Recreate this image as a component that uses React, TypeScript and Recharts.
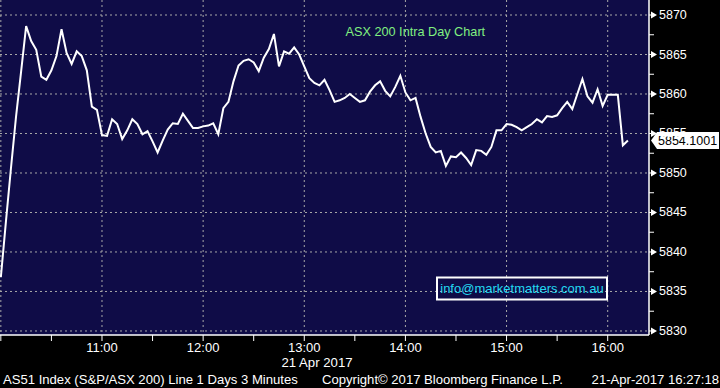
import React from "react";
import {
  LineChart,
  Line,
  XAxis,
  YAxis,
  CartesianGrid,
  ReferenceDot,
} from "recharts";

// ASX 200, 3-minute closes from 10:00
const prices = [
  5836.8, 5843.8, 5850.6, 5857.1, 5862.8, 5868.6, 5866.7, 5865.6, 5862.2, 5861.8,
  5863.0, 5864.8, 5868.2, 5865.2, 5863.8, 5865.4, 5864.8, 5863.0, 5858.4, 5858.0,
  5854.8, 5854.7, 5856.8, 5856.2, 5854.3, 5855.4, 5856.8, 5856.2, 5854.9, 5855.3,
  5854.0, 5852.6, 5854.1, 5855.5, 5856.3, 5856.2, 5857.5, 5856.6, 5855.7, 5855.7,
  5855.9, 5856.0, 5856.3, 5854.9, 5858.2, 5859.0, 5861.6, 5863.6, 5864.2, 5864.4,
  5864.0, 5862.9, 5864.6, 5865.7, 5867.6, 5863.5, 5865.4, 5865.1, 5865.9, 5865.0,
  5863.5, 5862.0, 5861.4, 5861.1, 5861.8, 5860.5, 5859.0, 5859.2, 5859.5, 5860.0,
  5859.5, 5859.0, 5859.2, 5860.3, 5861.1, 5861.6, 5860.4, 5859.7, 5860.9, 5862.3,
  5860.2, 5859.2, 5859.5, 5857.1, 5855.0, 5853.3, 5852.6, 5852.8, 5850.9, 5852.1,
  5852.0, 5852.6, 5851.9, 5851.0, 5852.9, 5852.8, 5852.3, 5853.3, 5855.4, 5855.4,
  5856.2, 5856.1, 5855.8, 5855.4, 5855.8, 5856.2, 5856.8, 5856.4, 5857.2, 5857.1,
  5857.3, 5858.2, 5859.0, 5858.1, 5860.0, 5861.9, 5859.7, 5858.9, 5860.6, 5858.5,
  5859.9, 5859.9, 5859.9, 5853.5, 5854.1,
];
const stepMinutes = 3;
const lastPrice = 5854.1001;
const lastLabel = "5854.1001";

// minutes after 10:00
const halfHourTicks = [0, 30, 60, 90, 120, 150, 180, 210, 240, 270, 300, 330, 360];
const hourTicks = [60, 120, 180, 240, 300, 360];
const hourLabels = ["11:00", "12:00", "13:00", "14:00", "15:00", "16:00"];
const gridMinutes = [0, 60, 120, 180, 240, 300, 360];

const yTicks = [
  5830, 5832.5, 5835, 5837.5, 5840, 5842.5, 5845, 5847.5, 5850, 5852.5, 5855,
  5857.5, 5860, 5862.5, 5865, 5867.5, 5870,
];
const yGrid = [5830, 5835, 5840, 5845, 5850, 5855, 5860, 5865, 5870];

const title = "ASX 200 Intra Day Chart";
const contact = "info@marketmatters.com.au";
const dateLabel = "21 Apr 2017";
const footerLeft = "AS51 Index (S&P/ASX 200) Line 1 Days 3 Minutes";
const footerMid = "Copyright\u00a9 2017 Bloomberg Finance L.P.";
const footerRight = "21-Apr-2017 16:27:18";

const data = prices.map((v, i) => ({ t: i * stepMinutes, v }));

const W = 720;
const H = 388;
const AXIS_W = 71;
const AXIS_H = 53;
const PLOT_RIGHT = W - AXIS_W;
const FONT = "'Liberation Sans', Arial, sans-serif";
const NAVY = "#0f0c47";

const XTick = (props: any) => {
  const { x, y, payload } = props;
  const idx = hourTicks.indexOf(payload.value);
  return (
    <g>
      <line x1={x} x2={x} y1={y} y2={y + 6} stroke="#fff" strokeWidth={1} />
      {idx >= 0 && (
        <text
          x={x}
          y={y + 12}
          textAnchor="middle"
          dominantBaseline="central"
          fill="#fff"
          fontSize={13}
          fontFamily={FONT}
        >
          {hourLabels[idx]}
        </text>
      )}
    </g>
  );
};

const YTick = (props: any) => {
  const { x, y, payload } = props;
  const major = payload.value % 5 === 0;
  if (!major) {
    return <line x1={x} x2={x + 5} y1={y} y2={y} stroke="#fff" strokeWidth={1} />;
  }
  return (
    <g>
      <line x1={x} x2={x + 3} y1={y} y2={y} stroke="#fff" strokeWidth={1} />
      <polygon points={`${x + 2},${y - 3.5} ${x + 8},${y} ${x + 2},${y + 3.5}`} fill="#fff" />
      <text
        x={x + 10}
        y={y}
        dominantBaseline="central"
        fill="#fff"
        fontSize={12.5}
        fontFamily={FONT}
      >
        {payload.value}
      </text>
    </g>
  );
};

const LastTag = (props: any) => {
  const { cy } = props;
  if (cy == null) return <g />;
  const x0 = PLOT_RIGHT + 2;
  return (
    <g>
      <polygon
        points={`${x0},${cy} ${x0 + 6},${cy - 8.5} ${W - 1},${cy - 8.5} ${W - 1},${cy + 8.5} ${x0 + 6},${cy + 8.5}`}
        fill="#fff"
      />
      <text
        x={x0 + 7}
        y={cy}
        dominantBaseline="central"
        fill="#000"
        fontSize={12.5}
        fontFamily={FONT}
      >
        {lastLabel}
      </text>
    </g>
  );
};

export default function App() {
  return (
    <div
      style={{
        position: "fixed",
        left: 0,
        top: 0,
        width: W,
        height: H,
        background: "#000",
      }}
    >
      <LineChart width={W} height={H} data={data} margin={{ top: 0, right: 0, bottom: 0, left: 0 }}>
        <CartesianGrid
          fill={NAVY}
          fillOpacity={1}
          stroke="#a8a8a8"
          strokeDasharray="2 3"
          horizontalValues={yGrid}
          verticalValues={gridMinutes}
        />
        <XAxis
          dataKey="t"
          type="number"
          domain={[-0.5, 384.5]}
          ticks={halfHourTicks}
          interval={0}
          allowDataOverflow
          height={AXIS_H}
          tickSize={0}
          tickMargin={0}
          tickLine={false}
          axisLine={{ stroke: "#fff", strokeWidth: 1.5 }}
          tick={(p: any) => <XTick {...p} />}
        />
        <YAxis
          orientation="right"
          type="number"
          domain={[5829.49, 5871.9]}
          ticks={yTicks}
          interval={0}
          allowDataOverflow
          width={AXIS_W}
          tickSize={0}
          tickMargin={0}
          tickLine={false}
          axisLine={{ stroke: "#fff", strokeWidth: 1.5 }}
          tick={(p: any) => <YTick {...p} />}
        />
        <Line
          type="linear"
          dataKey="v"
          stroke="#fff"
          strokeWidth={2}
          dot={false}
          activeDot={false}
          isAnimationActive={false}
        />
        <ReferenceDot
          x={data[data.length - 1].t}
          y={lastPrice}
          r={0}
          ifOverflow="visible"
          shape={(p: any) => <LastTag {...p} />}
        />
      </LineChart>
      <svg
        width={W}
        height={H}
        style={{ position: "absolute", left: 0, top: 0, pointerEvents: "none" }}
      >
        <text x={345.5} y={32} dominantBaseline="central" fill="#80f080" fontSize={12.7} fontFamily={FONT}>
          {title}
        </text>
        <rect x={437} y={277.5} width={170} height={22} fill="none" stroke="#fff" strokeWidth={2} />
        <text x={522} y={288.5} textAnchor="middle" dominantBaseline="central" fill="#22d8f0" fontSize={13} fontFamily={FONT}>
          {contact}
        </text>
        <text x={317} y={362} textAnchor="middle" dominantBaseline="central" fill="#fff" fontSize={13.2} fontFamily={FONT}>
          {dateLabel}
        </text>
        <text x={3} y={379.5} dominantBaseline="central" fill="#fff" fontSize={13.1} fontFamily={FONT}>
          {footerLeft}
        </text>
        <text x={322} y={379.5} dominantBaseline="central" fill="#fff" fontSize={13.1} fontFamily={FONT}>
          {footerMid}
        </text>
        <text x={719} y={379.5} textAnchor="end" dominantBaseline="central" fill="#fff" fontSize={13.1} fontFamily={FONT}>
          {footerRight}
        </text>
      </svg>
    </div>
  );
}
